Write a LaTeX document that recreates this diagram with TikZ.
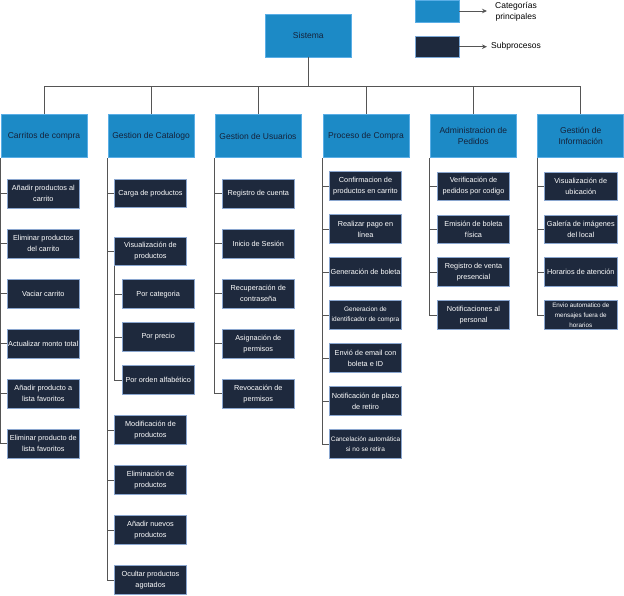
\documentclass[tikz,border=0pt]{standalone}
\usepackage{fontspec}
\setmainfont{Liberation Sans}
\usetikzlibrary{arrows.meta}
\definecolor{catfill}{HTML}{1C8AC6}
\definecolor{catline}{HTML}{5AAEE6}
\definecolor{cattext}{HTML}{15223A}
\definecolor{subfill}{HTML}{1E293D}
\definecolor{subline}{HTML}{8AA6CF}
\definecolor{wire}{HTML}{555555}
\tikzset{
  catbox/.style={draw=catline, fill=catfill, line width=0.8pt, text=cattext,
    minimum width=86pt, minimum height=43.5pt, inner sep=0pt, align=center,
    font=\fontsize{8.5}{10.6}\selectfont},
  subbox/.style={draw=subline, fill=subfill, line width=0.8pt, text=white,
    minimum width=72pt, minimum height=28.7pt, inner sep=0pt, align=center,
    font=\fontsize{7.3}{11}\selectfont},
  smalltext/.style={font=\fontsize{6.5}{10}\selectfont},
  tinytext/.style={font=\fontsize{6.3}{10.4}\selectfont},
  wires/.style={draw=wire, line width=1pt},
  legtext/.style={inner sep=0pt, align=center, font=\fontsize{8.5}{10.6}\selectfont},
}
\begin{document}
\begin{tikzpicture}[x=1pt, y=-1pt]
\useasboundingbox (0,0) rectangle (624,595);

% root and legend
\node[catbox, minimum width=86.5pt, minimum height=43pt] (sis) at (308.3,35.5) {Sistema};
\node[catbox, minimum width=43.3pt, minimum height=22pt] (leg1) at (437.3,11) {};
\node[subbox, draw=subline!70!catline, minimum width=43.3pt, minimum height=21pt] (leg2) at (437.3,46.5) {};
\node[legtext, anchor=west, inner xsep=8pt] (lt1) at (487,11.5) {Categorías\\principales};
\node[legtext, anchor=west, inner xsep=4pt] (lt2) at (487,46.7) {Subprocesos};
\draw[wires, -{Stealth[length=5pt,width=4.5pt]}] (leg1.east) -- (leg1.east -| lt1.west);
\draw[wires, -{Stealth[length=5pt,width=4.5pt]}] (leg2.east |- lt2.west) -- (lt2.west);

% main categories
\node[catbox] (c1) at (44,136) {Carritos de compra};
\node[catbox] (c2) at (151,136) {Gestion de Catalogo};
\node[catbox] (c3) at (258,136) {Gestion de Usuarios};
\node[catbox] (c4) at (366,136) {Proceso de Compra};
\node[catbox] (c5) at (473.3,136) {Administracion de\\Pedidos};
\node[catbox] (c6) at (580.7,136) {Gestión de\\Información};

% bus from the root to the categories
\coordinate (busL) at (44,86);
\draw[wires] (sis.south) -- (sis.south |- busL);
\draw[wires] (c1.north) |- (c6.north |- busL) -- (c6.north);
\foreach \c in {c2,c3,c4,c5}
  \draw[wires] (\c.north) -- (\c.north |- busL);

% Carritos de compra
\node[subbox] (a1) at (43.3,193.7) {Añadir productos al\\carrito};
\node[subbox] (a2) at (43.3,243.7) {Eliminar productos\\del carrito};
\node[subbox] (a3) at (43.3,293.7) {Vaciar carrito};
\node[subbox] (a4) at (43.3,343.7) {Actualizar monto total};
\node[subbox] (a5) at (43.3,393.7) {Añadir producto a\\lista favoritos};
\node[subbox] (a6) at (43.3,443.7) {Eliminar producto de\\lista favoritos};

% Gestion de Catalogo
\node[subbox] (b1) at (150.5,193.5) {Carga de productos};
\node[subbox] (b2) at (150.5,251.3) {Visualización de\\productos};
\node[subbox, minimum width=71.7pt] (b21) at (158.2,294.2) {Por categoria};
\node[subbox, minimum width=71.7pt] (b22) at (158.2,337) {Por precio};
\node[subbox, minimum width=71.7pt] (b23) at (158.2,380) {Por orden alfabético};
\node[subbox] (b3) at (150.5,430) {Modificación de\\productos};
\node[subbox] (b4) at (150.5,480) {Eliminación de\\productos};
\node[subbox] (b5) at (150.5,530) {Añadir nuevos\\productos};
\node[subbox] (b6) at (150.5,580) {Ocultar productos\\agotados};

% Gestion de Usuarios
\node[subbox] (u1) at (258.3,193.7) {Registro de cuenta};
\node[subbox] (u2) at (258.3,243.7) {Inicio de Sesión};
\node[subbox] (u3) at (258.3,293.7) {Recuperación de\\contraseña};
\node[subbox] (u4) at (258.3,343.7) {Asignación de\\permisos};
\node[subbox] (u5) at (258.3,393.7) {Revocación de\\permisos};

% Proceso de Compra
\node[subbox] (p1) at (365.5,186) {Confirmacion de\\productos en carrito};
\node[subbox] (p2) at (365.5,229) {Realizar pago en\\línea};
\node[subbox] (p3) at (365.5,272) {Generación de boleta};
\node[subbox, smalltext] (p4) at (365.5,315) {Generacion de\\identificador de compra};
\node[subbox] (p5) at (365.5,358) {Envió de email con\\boleta e ID};
\node[subbox] (p6) at (365.5,401) {Notificación de plazo\\de retiro};
\node[subbox, smalltext] (p7) at (365.5,444) {Cancelación automática\\si no se retira};

% Administracion de Pedidos
\node[subbox] (d1) at (473.5,186.5) {Verificación de\\pedidos por codigo};
\node[subbox] (d2) at (473.5,229.5) {Emisión de boleta\\física};
\node[subbox] (d3) at (473.5,272.2) {Registro de venta\\presencial};
\node[subbox] (d4) at (473.5,315.2) {Notificaciones al\\personal};

% Gestion de Informacion
\node[subbox, minimum width=73pt] (i1) at (580.8,186.5) {Visualización de\\ubicación};
\node[subbox, minimum width=73pt] (i2) at (580.8,229.5) {Galería de imágenes\\del local};
\node[subbox, minimum width=73pt] (i3) at (580.8,272.2) {Horarios de atención};
\node[subbox, minimum width=73pt, tinytext] (i4) at (580.8,315.2) {Envio automatico de\\mensajes fuera de\\horarios};

% branch lines from each category to its subprocesses
\draw[wires] (c1.south west) |- (a6.west);
\foreach \s in {a1,a2,a3,a4,a5}
  \draw[wires] (c1.south west |- \s.west) -- (\s.west);

\draw[wires] (c2.south west) |- (b6.west);
\foreach \s in {b1,b2,b3,b4,b5}
  \draw[wires] (c2.south west |- \s.west) -- (\s.west);
\draw[wires] (b2.south west) |- (b23.west);
\foreach \s in {b21,b22}
  \draw[wires] (b2.south west |- \s.west) -- (\s.west);

\draw[wires] (c3.south west) |- (u5.west);
\foreach \s in {u1,u2,u3,u4}
  \draw[wires] (c3.south west |- \s.west) -- (\s.west);

\draw[wires] (c4.south west) |- (p7.west);
\foreach \s in {p1,p2,p3,p4,p5,p6}
  \draw[wires] (c4.south west |- \s.west) -- (\s.west);

\draw[wires] (c5.south west) |- (d4.west);
\foreach \s in {d1,d2,d3}
  \draw[wires] (c5.south west |- \s.west) -- (\s.west);

\draw[wires] (c6.south west) |- (i4.west);
\foreach \s in {i1,i2,i3}
  \draw[wires] (c6.south west |- \s.west) -- (\s.west);
\end{tikzpicture}
\end{document}
